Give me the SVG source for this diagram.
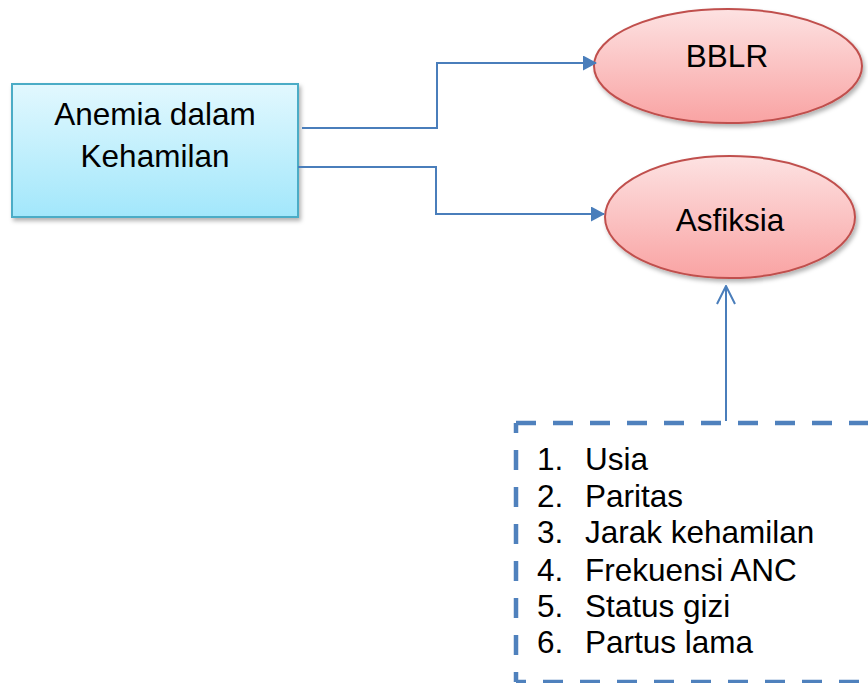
<svg xmlns="http://www.w3.org/2000/svg" width="868" height="683" viewBox="0 0 868 683">
<defs>
<linearGradient id="gBlue" x1="0" y1="0" x2="0" y2="1">
<stop offset="0" stop-color="#e2f8fe"/>
<stop offset="1" stop-color="#a2e7fb"/>
</linearGradient>
<linearGradient id="gRed" x1="0" y1="0" x2="0" y2="1">
<stop offset="0" stop-color="#fde2e2"/>
<stop offset="1" stop-color="#f9a3a3"/>
</linearGradient>
<filter id="sh" x="-10%" y="-10%" width="125%" height="130%">
<feDropShadow dx="2" dy="3" stdDeviation="2" flood-color="#000" flood-opacity="0.3"/>
</filter>
<marker id="arrFill" markerWidth="14" markerHeight="15" refX="13" refY="7.5" orient="auto" markerUnits="userSpaceOnUse" viewBox="0 0 14 15">
<path d="M0,0 L14,7.5 L0,15 z" fill="#4a7ebb"/>
</marker>
<marker id="arrOpen" markerWidth="20" markerHeight="22" refX="19" refY="11" orient="auto" markerUnits="userSpaceOnUse" viewBox="0 0 20 22">
<path d="M1,2 L19,11 L1,20" fill="none" stroke="#4a7ebb" stroke-width="2"/>
</marker>
</defs>
<style>
text{font-family:"Liberation Sans",Arial,sans-serif;font-size:31.5px;fill:#000}
.conn{fill:none;stroke:#4a7ebb;stroke-width:2}
.dash{fill:none;stroke:#4f81bd;stroke-width:4.5;stroke-dasharray:20 17}
.ell{fill:url(#gRed);stroke:#c0504d;stroke-width:2;filter:url(#sh)}
</style>
<rect width="868" height="683" fill="#fff"/>
<g id="anemia">
<rect x="12" y="84" width="286" height="133" fill="url(#gBlue)" stroke="#4bacc6" stroke-width="2" filter="url(#sh)"/>
<text x="155" y="125" text-anchor="middle">Anemia dalam</text>
<text x="155" y="167" text-anchor="middle">Kehamilan</text>
</g>
<g id="bblr">
<ellipse class="ell" cx="728" cy="66" rx="134" ry="57"/>
<text x="727" y="67" text-anchor="middle">BBLR</text>
</g>
<g id="asfiksia">
<ellipse class="ell" cx="730" cy="217" rx="125" ry="61"/>
<text x="730" y="231" text-anchor="middle">Asfiksia</text>
</g>
<g id="faktor">
<path class="dash" d="M516,423 L880,423"/>
<path class="dash" d="M516,423 L516,682" style="stroke-dashoffset:10"/>
<path class="dash" d="M516,682 L880,682" style="stroke-dashoffset:10"/>
<text x="537" y="470">1.</text><text x="585" y="470">Usia</text>
<text x="537" y="507">2.</text><text x="585" y="507">Paritas</text>
<text x="537" y="543">3.</text><text x="585" y="543">Jarak kehamilan</text>
<text x="537" y="581">4.</text><text x="585" y="581">Frekuensi ANC</text>
<text x="537" y="617">5.</text><text x="585" y="617">Status gizi</text>
<text x="537" y="653">6.</text><text x="585" y="653">Partus lama</text>
</g>
<g id="connectors">
<path class="conn" d="M302,128 H437 V63 H596" marker-end="url(#arrFill)"/>
<path class="conn" d="M298,167 H436 V214 H604" marker-end="url(#arrFill)"/>
<path class="conn" d="M726,421 V286" marker-end="url(#arrOpen)"/>
</g>
</svg>
